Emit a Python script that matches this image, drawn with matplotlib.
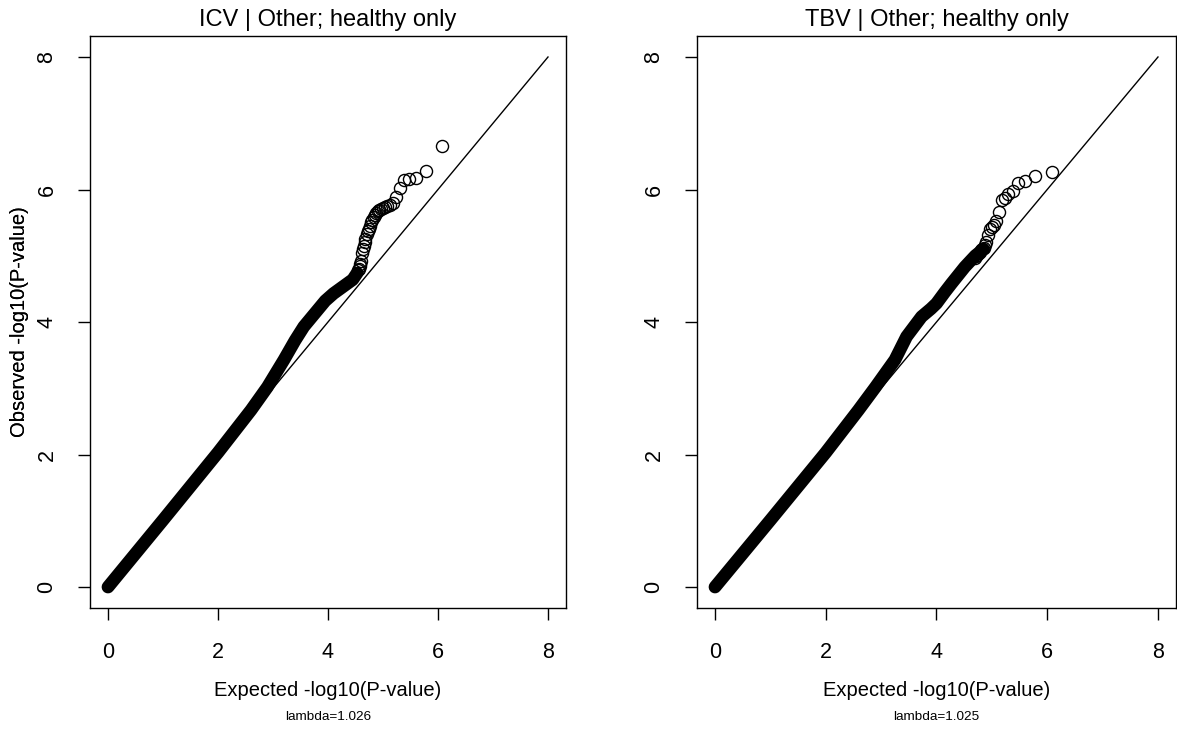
import matplotlib
matplotlib.use("Agg")
import matplotlib.pyplot as plt

plt.rcParams['font.family'] = ['Liberation Sans', 'DejaVu Sans']

# Panel titles and genomic inflation factors
titles = ["ICV | Other; healthy only", "TBV | Other; healthy only"]
lambdas = ["lambda=1.026", "lambda=1.025"]
ticks = [0, 2, 4, 6, 8]

# Dense body of the QQ cloud (expected, observed -log10 P)
icv_band_expected = [0.0, 1.0, 2.0, 2.6, 2.9, 3.2, 3.4, 3.56, 3.7, 3.81, 3.95, 4.1, 4.3, 4.45, 4.53]
icv_band_observed = [0.0, 1.01, 2.03, 2.67, 3.02, 3.43, 3.72, 3.93, 4.07, 4.18, 4.32, 4.43, 4.55, 4.64, 4.74]

tbv_band_expected = [0.0, 1.0, 2.0, 2.59, 2.9, 3.25, 3.46, 3.73, 3.9, 4.0, 4.15, 4.27, 4.51, 4.7, 4.85]
tbv_band_observed = [0.0, 1.01, 2.03, 2.67, 3.02, 3.43, 3.78, 4.08, 4.20, 4.28, 4.45, 4.58, 4.83, 5.0, 5.1]

# Top-ranked SNPs drawn individually
icv_tail_expected = [6.08, 5.78, 5.60, 5.48, 5.38, 5.30, 5.23, 5.18, 5.13, 5.08,
                     5.04, 5.00, 4.97, 4.93, 4.90, 4.88, 4.85, 4.83, 4.80, 4.78,
                     4.76, 4.74, 4.72, 4.70, 4.68, 4.67, 4.65, 4.63, 4.62, 4.60,
                     4.59, 4.58, 4.56, 4.55]
icv_tail_observed = [6.65, 6.28, 6.18, 6.16, 6.14, 6.03, 5.88, 5.80, 5.77, 5.75,
                     5.73, 5.72, 5.71, 5.69, 5.67, 5.64, 5.61, 5.58, 5.54, 5.51,
                     5.45, 5.40, 5.37, 5.33, 5.26, 5.21, 5.15, 5.10, 5.04, 4.92,
                     4.87, 4.84, 4.80, 4.78]

tbv_tail_expected = [6.08, 5.78, 5.60, 5.48, 5.38, 5.30, 5.23, 5.18, 5.13, 5.08,
                     5.04, 5.00, 4.97, 4.93, 4.90, 4.88, 4.85, 4.83, 4.80, 4.78,
                     4.76, 4.74, 4.72, 4.70]
tbv_tail_observed = [6.27, 6.21, 6.13, 6.10, 5.98, 5.93, 5.87, 5.84, 5.66, 5.52,
                     5.47, 5.44, 5.40, 5.31, 5.21, 5.16, 5.12, 5.10, 5.08, 5.06,
                     5.04, 5.01, 4.99, 4.97]

panels = [
    (icv_band_expected, icv_band_observed, icv_tail_expected, icv_tail_observed),
    (tbv_band_expected, tbv_band_observed, tbv_tail_expected, tbv_tail_observed),
]

W, H = 1177, 729
fig = plt.figure(figsize=(W / 100, H / 100), dpi=100)
fig.patch.set_facecolor('white')

# axes boxes in pixel units: (left, right, top, bottom)
boxes = [(90.4, 565.6, 35.8, 608.2), (697.3, 1175.7, 35.8, 608.2)]

for i, (box, data) in enumerate(zip(boxes, panels)):
    l, r, t, b = box
    ax = fig.add_axes([l / W, 1 - b / H, (r - l) / W, (b - t) / H])
    bx, by, tx, ty = data

    ax.plot([0, 8], [0, 8], color='black', lw=1.0, zorder=2)
    ax.plot(bx, by, color='black', lw=9.2, solid_capstyle='round',
            solid_joinstyle='round', zorder=3)
    ax.plot(tx, ty, linestyle='none', marker='o', markersize=8.7,
            markerfacecolor='none', markeredgecolor='black',
            markeredgewidth=1.0, zorder=4)

    ax.set_xlim(-0.32, 8.32)
    ax.set_ylim(-0.32, 8.32)
    ax.set_xticks(ticks)
    ax.set_yticks(ticks)
    ax.set_xticklabels([str(v) for v in ticks], fontsize=15.5)
    ax.set_yticklabels([str(v) for v in ticks], fontsize=15.5,
                       rotation=90, va='center', ha='right')
    ax.tick_params(direction='out', length=8.6, width=1.0, color='black')
    ax.tick_params(axis='x', pad=16)
    ax.tick_params(axis='y', pad=15)
    for s in ax.spines.values():
        s.set_linewidth(1.0)
        s.set_color('black')

    ax.set_xlabel("Expected -log10(P-value)", fontsize=14.5, va='center')
    ax.xaxis.set_label_coords(0.5, (b - 690) / (b - t))
    ax.set_ylabel("Observed -log10(P-value)", fontsize=14.5, va='center')
    ax.yaxis.set_label_coords((20 - l) / (r - l), 0.5)

    ax.text(0.5, (b - 20) / (b - t), titles[i], transform=ax.transAxes,
            ha='center', va='center', fontsize=17)
    ax.text(0.5, (b - 717) / (b - t), lambdas[i], transform=ax.transAxes,
            ha='center', va='center', fontsize=9.7)

fig.savefig("out.png", dpi=100, facecolor='white')
